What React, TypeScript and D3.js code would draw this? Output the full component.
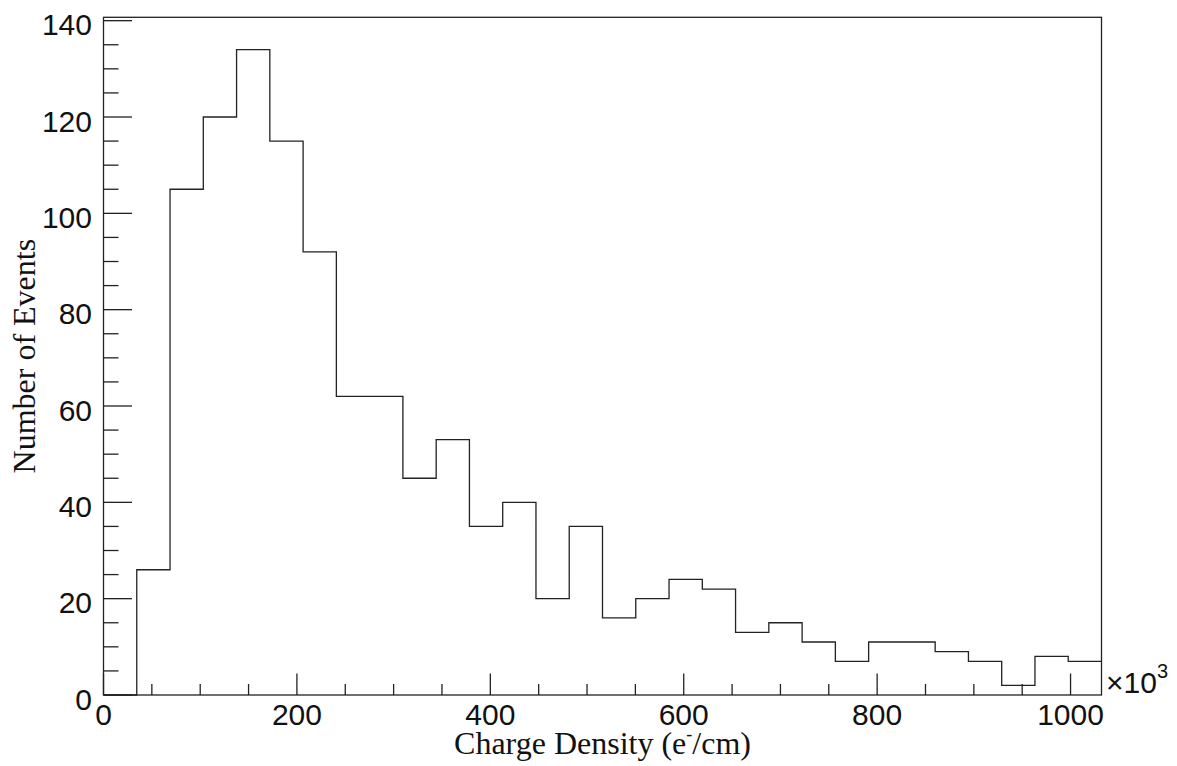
import React from "react";
import * as d3 from "d3";

// ---- data (counts per bin) ----
const xMax = 1032; // x range upper edge (×10^3 e-/cm)
const binCount = 30;
const counts = [
  0, 26, 105, 120, 134, 115, 92, 62, 62, 45,
  53, 35, 40, 20, 35, 16, 20, 24, 22, 13,
  15, 11, 7, 11, 11, 9, 7, 2, 8, 7,
];
const yMax = 140.7;
const xMajorTicks = [0, 200, 400, 600, 800, 1000];
const yMajorTicks = [0, 20, 40, 60, 80, 100, 120, 140];
const xTitle = "Charge Density (e";
const yTitle = "Number of Events";

const W = 1177;
const H = 766;
const left = 103.5;
const right = 1101.5;
const top = 17.3;
const bottom = 695;

export default function App() {
  const x = d3.scaleLinear().domain([0, xMax]).range([left, right]);
  const y = d3.scaleLinear().domain([0, yMax]).range([bottom, top]);
  const bw = xMax / binCount;

  const pts: [number, number][] = counts.map((c, i) => [i * bw, c]);
  pts.push([xMax, counts[counts.length - 1]]);
  const line = d3
    .line<[number, number]>()
    .x((d) => x(d[0]))
    .y((d) => y(d[1]))
    .curve(d3.curveStepAfter);

  const xMinor = d3.range(0, xMax + 0.001, 50).filter((v) => v % 200 !== 0);
  const yMinor = d3.range(0, yMax, 5).filter((v) => v % 20 !== 0);

  const stroke = "#222";
  const sans = "'Liberation Sans', Arial, Helvetica, sans-serif";
  const serif = "'Liberation Serif', 'Times New Roman', serif";

  return (
    <svg
      width={W}
      height={H}
      style={{ position: "absolute", left: 0, top: 0, background: "#fff" }}
    >
      <rect x={0} y={0} width={W} height={H} fill="#fff" />
      {/* histogram */}
      <path d={line(pts) || ""} fill="none" stroke={stroke} strokeWidth={1.3} />
      {/* frame */}
      <rect
        x={left}
        y={top}
        width={right - left}
        height={bottom - top}
        fill="none"
        stroke={stroke}
        strokeWidth={1.3}
      />
      {/* x ticks */}
      {xMajorTicks.map((t) => (
        <line key={"xM" + t} x1={x(t)} x2={x(t)} y1={bottom} y2={bottom - 21.5} stroke={stroke} strokeWidth={1.3} />
      ))}
      {xMinor.map((t) => (
        <line key={"xm" + t} x1={x(t)} x2={x(t)} y1={bottom} y2={bottom - 11} stroke={stroke} strokeWidth={1.3} />
      ))}
      {xMajorTicks.map((t) => (
        <text key={"xl" + t} x={x(t)} y={725} fontFamily={sans} fontSize={30} textAnchor="middle" fill="#111">
          {t}
        </text>
      ))}
      {/* y ticks */}
      {yMajorTicks.map((t) => (
        <line key={"yM" + t} x1={left} x2={left + 28.5} y1={y(t)} y2={y(t)} stroke={stroke} strokeWidth={1.3} />
      ))}
      {yMinor.map((t) => (
        <line key={"ym" + t} x1={left} x2={left + 15} y1={y(t)} y2={y(t)} stroke={stroke} strokeWidth={1.3} />
      ))}
      {yMajorTicks.map((t) => (
        <text key={"yl" + t} x={92} y={y(t) + 14.5} fontFamily={sans} fontSize={30} textAnchor="end" fill="#111">
          {t}
        </text>
      ))}
      {/* x10^3 */}
      <text x={1106} y={693} fontFamily={sans} fontSize={30} fill="#111">
        ×10<tspan fontSize={20} dy={-15}>3</tspan>
      </text>
      {/* axis titles */}
      <text x={(left + right) / 2} y={754} fontFamily={serif} fontSize={32} textAnchor="middle" fill="#111">
        {xTitle}
        <tspan fontSize={18} dy={-14}>-</tspan>
        <tspan dy={14}>/cm)</tspan>
      </text>
      <text
        transform={`translate(35, ${(top + bottom) / 2}) rotate(-90)`}
        fontFamily={serif}
        fontSize={32}
        textAnchor="middle"
        fill="#111"
      >
        {yTitle}
      </text>
    </svg>
  );
}
